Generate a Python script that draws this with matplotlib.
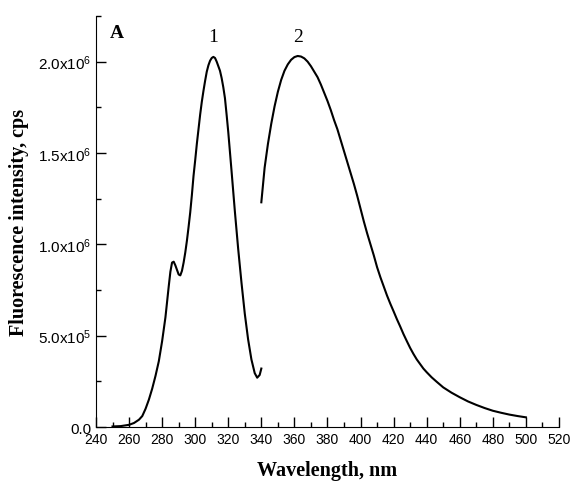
# -*- coding: utf-8 -*-
"""
Fluorescence excitation (1) and emission (2) spectra, panel A
"""
import numpy as np
import matplotlib
matplotlib.use('Agg')
import matplotlib.pyplot as plt
from matplotlib.ticker import MultipleLocator, FuncFormatter

###############################################################################
# data, intensity in units of 1e6 cps:

exc_wl = [250, 255, 260, 263, 266, 268, 270, 272, 274, 276, 278, 280, 282,
          284, 285, 286, 287, 288, 289, 290, 291, 292, 293, 294, 295, 296,
          297, 298, 299, 300, 301, 302, 303, 304, 305, 306, 307, 308, 309,
          310, 311, 312, 313, 314, 315, 316, 317, 318, 319, 320, 322, 324,
          326, 328, 330, 332, 334, 336, 337.5, 339, 340]
exc_int = [0.003, 0.005, 0.012, 0.022, 0.04, 0.06, 0.10, 0.15, 0.21, 0.28,
           0.36, 0.47, 0.60, 0.77, 0.85, 0.90, 0.905, 0.885, 0.86, 0.835,
           0.83, 0.855, 0.90, 0.955, 1.02, 1.095, 1.175, 1.27, 1.375, 1.46,
           1.55, 1.63, 1.71, 1.78, 1.84, 1.895, 1.945, 1.98, 2.005, 2.02,
           2.026, 2.02, 2.0, 1.975, 1.95, 1.91, 1.86, 1.80, 1.71, 1.615,
           1.40, 1.18, 0.975, 0.79, 0.62, 0.48, 0.37, 0.295, 0.27, 0.285,
           0.32]

em_wl = [340, 342, 344, 346, 348, 350, 352, 354, 356, 358, 360, 362, 364,
         366, 368, 370, 372, 374, 376, 378, 380, 382, 384, 386, 388, 390,
         392, 394, 396, 398, 400, 402, 404, 406, 408, 410, 412, 414, 416,
         418, 420, 422, 424, 426, 428, 430, 432, 434, 436, 438, 440, 443,
         446, 450, 455, 460, 465, 470, 475, 480, 485, 490, 495, 500]
em_int = [1.23, 1.42, 1.55, 1.66, 1.755, 1.835, 1.90, 1.95, 1.985, 2.01,
          2.025, 2.031, 2.028, 2.018, 2.0, 1.975, 1.945, 1.915, 1.875, 1.83,
          1.785, 1.735, 1.68, 1.63, 1.57, 1.51, 1.45, 1.39, 1.33, 1.265,
          1.195, 1.125, 1.06, 1.0, 0.94, 0.875, 0.82, 0.77, 0.72, 0.675,
          0.633, 0.59, 0.55, 0.508, 0.47, 0.433, 0.40, 0.37, 0.345, 0.32,
          0.30, 0.272, 0.248, 0.217, 0.188, 0.163, 0.14, 0.121, 0.104,
          0.089, 0.078, 0.068, 0.060, 0.053]

###############################################################################
# setup:

plt.rcParams['font.family'] = ['Liberation Sans', 'DejaVu Sans']
plt.rcParams['mathtext.fontset'] = 'custom'
plt.rcParams['mathtext.rm'] = 'Liberation Sans'
plt.rcParams['mathtext.it'] = 'Liberation Sans'
serif = ['Liberation Serif', 'DejaVu Serif']


def sci_fmt(v, pos):
    if v <= 0:
        return '0.0'
    e = int(np.floor(np.log10(v)))
    return '%.1fx10$^{%d}$' % (v / 10**e, e)


###############################################################################
# do the plot:

fig = plt.figure(figsize=(5.73, 4.85), dpi=100)
ax = fig.add_axes([0.1675, 0.1175, 0.808, 0.8475])

ax.plot(exc_wl, np.array(exc_int) * 1e6, color='k', lw=1.5)
ax.plot(em_wl, np.array(em_int) * 1e6, color='k', lw=1.5)

ax.set_xlim(240, 520)
ax.set_ylim(0, 2.25e6)
ax.xaxis.set_major_locator(MultipleLocator(20))
ax.xaxis.set_minor_locator(MultipleLocator(10))
ax.yaxis.set_major_locator(MultipleLocator(5e5))
ax.yaxis.set_minor_locator(MultipleLocator(2.5e5))
ax.yaxis.set_major_formatter(FuncFormatter(sci_fmt))

ax.spines['top'].set_visible(False)
ax.spines['right'].set_visible(False)
ax.tick_params(which='both', direction='in')
ax.tick_params(axis='x', labelsize=10)
ax.tick_params(axis='y', labelsize=11)
ax.tick_params(which='major', length=7, width=1)
ax.tick_params(which='minor', length=3.5, width=1)

ax.set_xlabel('Wavelength, nm', family=serif, fontweight='bold',
              fontsize=14.5, labelpad=10)
ax.set_ylabel('Fluorescence intensity, cps', family=serif,
              fontweight='bold', fontsize=14.5, labelpad=6)

# panel letter and curve numbers:
ax.text(0.046, 0.96, 'A', transform=ax.transAxes, family=serif,
        fontweight='bold', fontsize=14, ha='center', va='center')
ax.text(311, 2.14e6, '1', family=serif, fontsize=14, ha='center', va='center')
ax.text(362, 2.14e6, '2', family=serif, fontsize=14, ha='center', va='center')

plt.savefig('out.png', dpi=100)
